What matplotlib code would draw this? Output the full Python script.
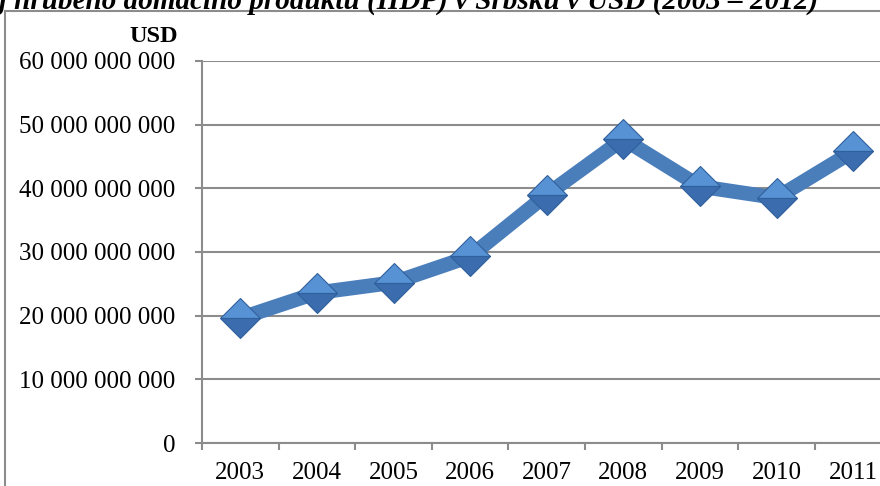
import matplotlib.pyplot as plt
from matplotlib.patches import Rectangle
from matplotlib.ticker import FuncFormatter, FixedLocator

# HDP Srbska v USD
years = ['2003', '2004', '2005', '2006', '2007', '2008', '2009', '2010', '2011', '2012']
gdp = [19.6e9, 23.6e9, 25.2e9, 29.3e9, 39.0e9, 47.75e9, 40.3e9, 38.5e9, 45.8e9]
title = 'Vývoj hrubého domácího produktu (HDP) v Srbsku v USD (2003 – 2012)'

plt.rcParams['font.family'] = ['Liberation Serif', 'DejaVu Serif']

W, H = 880, 486
fig = plt.figure(figsize=(W / 100, H / 100), dpi=100)

# rámeček grafu
fig.add_artist(Rectangle((5 / W, -0.1), 1.2, 1 - 11 / H + 0.1, transform=fig.transFigure,
                         fill=False, edgecolor='#8c8c8c', linewidth=1.5))

# titulek (oříznutý horním okrajem)
fig.text(818 / W, 1 - 9 / H, title, ha='right', va='baseline', fontsize=21,
         fontweight='bold', fontstyle='italic')

ax_left, ax_bottom, ax_top = 202 / W, 1 - 443 / H, 1 - 61 / H
cat_w = 76.6 / W
ax = fig.add_axes([ax_left, ax_bottom, cat_w * len(years), ax_top - ax_bottom])

x = list(range(len(gdp)))
ax.plot(x, gdp, color='#4A7EBB', linewidth=10.5, solid_joinstyle='round',
        marker='D', markersize=20.5, fillstyle='top',
        markerfacecolor='#5692D4', markerfacecoloralt='#3A6CAE',
        markeredgecolor='#30609C', markeredgewidth=0.8, zorder=3)

ax.set_xlim(-0.5, len(years) - 0.5)
ax.set_ylim(0, 60e9)
ax.set_yticks([i * 10e9 for i in range(7)])
ax.yaxis.set_major_formatter(FuncFormatter(lambda v, p: f'{int(v):,}'.replace(',', ' ')))
ax.set_xticks(range(len(years)))
ax.set_xticklabels(years)
ax.xaxis.set_minor_locator(FixedLocator([i - 0.5 for i in range(len(years) + 1)]))

ax.grid(axis='y', color='#8c8c8c', linewidth=1.5)
ax.set_axisbelow(True)
for s in ['top', 'right']:
    ax.spines[s].set_visible(False)
for s in ['left', 'bottom']:
    ax.spines[s].set_color('#8c8c8c')
    ax.spines[s].set_linewidth(1.5)

ax.tick_params(axis='y', length=5, width=1.5, color='#8c8c8c', pad=14, labelsize=18)
ax.tick_params(axis='x', which='major', length=0, pad=14, labelsize=18)
ax.tick_params(axis='x', which='minor', length=5, width=1.5, color='#8c8c8c')

fig.text(178 / W, 1 - 36 / H, 'USD', ha='right', va='center', fontsize=17.5, fontweight='bold')

fig.savefig('out.png', dpi=100)
